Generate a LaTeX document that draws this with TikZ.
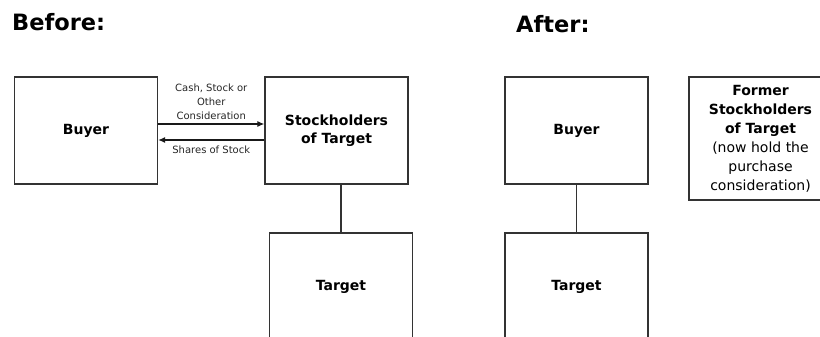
\documentclass[tikz,border=0pt]{standalone}
\usepackage{fontspec}
\setmainfont{DejaVu Sans}
\usetikzlibrary{arrows.meta}

\begin{document}
\begin{tikzpicture}[x=1pt,y=-1pt,
    box/.style={draw=black!80,line width=1.3pt,rectangle,minimum width=143pt,minimum height=107pt,
                align=center,font=\fontsize{14}{18}\selectfont\bfseries},
    title/.style={anchor=west,inner sep=0pt,font=\fontsize{22.5}{27}\selectfont\bfseries},
    note/.style={align=center,inner sep=1pt,text=black!85,font=\fontsize{10}{14}\selectfont},
    link/.style={draw=black!80,line width=1.2pt},
    flow/.style={draw=black!90,line width=1.2pt,-{Latex[length=7pt,width=6pt]}}]
            \useasboundingbox (0,0) rectangle (820,337);
            \clip (0,0) rectangle (820,337);

            % before
            \node[title] (before) at (12,22) {Before:};
            \node[box] (buyerA) at (86,130.5) {Buyer};
            \node[box] (holders) at (336.5,130.5) {Stockholders\\of Target};
            \node[box] (targetA) at (341,286.5) {Target};

            \draw [flow] ([yshift=6.5pt]buyerA.east) -- node[note,above=3pt] {Cash, Stock or\\Other\\Consideration} ([yshift=6.5pt]holders.west);
            \draw [flow] ([yshift=-9.5pt]holders.west) -- node[note,below=4pt] {Shares of Stock} ([yshift=-9.5pt]buyerA.east);
            \draw [link] (targetA.north) -- (targetA.north |- holders.south);

            % after
            \node[title] (after) at (516,24) {After:};
            \node[box] (buyerB) at (576.5,130.5) {Buyer};
            \node[box] (targetB) at (576.5,286.5) {Target};
            \node[box,minimum height=123pt,font=\fontsize{14}{19}\selectfont] (former) at (760.5,138.5)
                {\textbf{Former}\\\textbf{Stockholders}\\\textbf{of Target}\\(now hold the\\purchase\\consideration)};

            \draw [link] (buyerB) -- (targetB);
        \end{tikzpicture}
\end{document}
